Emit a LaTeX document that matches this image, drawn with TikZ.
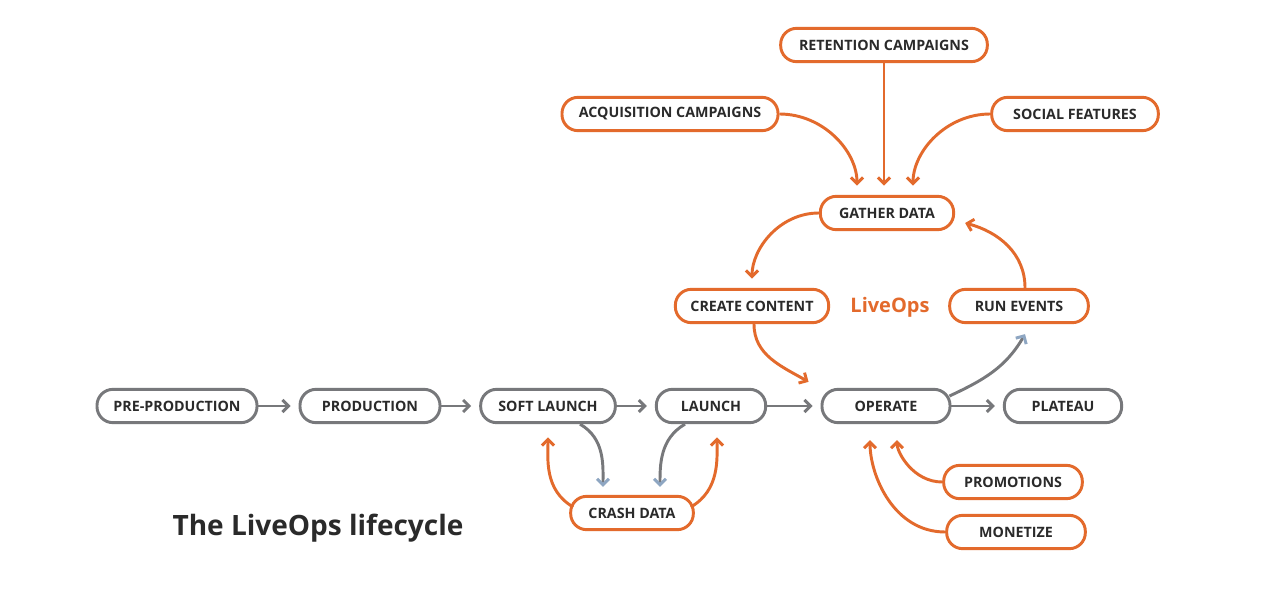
\documentclass[tikz,border=0pt]{standalone}
\usepackage{fontspec}
\setmainfont{Open Sans}
\usepackage{xcolor}
\usepackage{tikz}
\usetikzlibrary{calc,arrows.meta}
\definecolor{lopc}{HTML}{E36A2C}
\definecolor{grayc}{HTML}{77787B}
\definecolor{tipc}{HTML}{8EA6C2}
\definecolor{txtc}{HTML}{2A2A2A}
\tikzset{
  gbox/.style={draw=grayc,line width=2.2pt,rounded corners=12pt,fill=white,minimum height=25pt,inner sep=3pt,font=\fontsize{10.7pt}{12pt}\selectfont\bfseries,text=txtc},
  obox/.style={gbox,draw=lopc},
  gar/.style={-{Straight Barb[length=4.5pt,width=9pt]},line width=2.2pt,grayc,shorten >=6pt},
  bar/.style={gar,-{Straight Barb[length=4.5pt,width=9pt,color=tipc]}},
  oar/.style={gar,lopc}
}
\begin{document}
\begin{tikzpicture}[x=0.75pt,y=0.75pt]
\useasboundingbox[fill=white] (0,0) rectangle (1280,-606);
\node[gbox,minimum width=120pt] (pre) at (177,-406) {PRE-PRODUCTION};
\node[gbox,minimum width=105pt] (prod) at (370,-406) {PRODUCTION};
\node[gbox,minimum width=101pt] (soft) at (548,-406) {SOFT LAUNCH};
\node[gbox,minimum width=82pt] (launch) at (711,-406) {LAUNCH};
\node[gbox,minimum width=96pt] (op) at (886,-406) {OPERATE};
\node[gbox,minimum width=88pt] (plat) at (1063,-406) {PLATEAU};
\node[obox,minimum width=92pt] (crash) at (632,-513) {CRASH DATA};
\node[obox,minimum width=115pt] (create) at (752,-306) {CREATE CONTENT};
\node[obox,minimum width=104pt] (run) at (1019,-306) {RUN EVENTS};
\node[obox,minimum width=100pt] (gather) at (887,-213) {GATHER DATA};
\node[obox,minimum width=162pt] (acq) at (670,-114) {ACQUISITION CAMPAIGNS};
\node[obox,minimum width=155pt] (ret) at (884,-45) {RETENTION CAMPAIGNS};
\node[obox,minimum width=125pt] (social) at (1075,-114) {SOCIAL FEATURES};
\node[obox,minimum width=104pt] (promo) at (1013,-482) {PROMOTIONS};
\node[obox,minimum width=104pt] (monet) at (1016,-532) {MONETIZE};
\node[font=\fontsize{15pt}{18pt}\selectfont\bfseries,text=lopc] (liveops) at (890,-307) {LiveOps};
\node[font=\fontsize{21pt}{25pt}\selectfont\bfseries,text=txtc] (title) at (318,-528) {The LiveOps lifecycle};

\draw[gar] (pre) -- (prod);
\draw[gar] (prod) -- (soft);
\draw[gar] (soft) -- (launch);
\draw[gar] (launch) -- (op);
\draw[gar] (op) -- (plat);
\draw[bar] ($(soft.south)+(32,0)$) to[out=-30,in=90] ($(crash.north)+(-29,0)$);
\draw[bar] ($(launch.south)+(-26,0)$) to[out=210,in=90] ($(crash.north)+(28,0)$);
\draw[oar,shorten >=10pt] ($(crash.west)+(4,6)$) to[out=150,in=-90] (soft.south);
\draw[oar,shorten >=10pt] ($(crash.east)+(-4,6)$) to[out=30,in=-90] ($(launch.south)+(6,0)$);
\draw[oar,shorten >=0pt] ($(create.south)+(2,0)$) to[out=-90,in=150] ($(op.north west)+(-12,6)$);
\draw[bar,shorten >=0pt] ($(op.east)+(-2,10)$) to[out=25,in=-120] ($(run.south)+(6,-10)$);
\draw[oar,shorten >=0pt] ($(run.north)+(6,0)$) to[out=90,in=-15] ($(gather.east)+(10,-10)$);
\draw[oar,shorten >=7pt] (gather.west) to[out=180,in=90] (create.north);
\draw[oar,shorten >=7pt] (acq.east) to[out=0,in=90] ($(gather.north)+(-30,0)$);
\draw[oar,shorten >=7pt] (ret.south) -- ($(gather.north)+(-3,0)$);
\draw[oar,shorten >=7pt] (social.west) to[out=180,in=90] ($(gather.north)+(26,0)$);
\draw[oar,shorten >=12pt] (promo.west) to[out=180,in=-90] ($(op.south)+(11,0)$);
\draw[oar,shorten >=12pt] (monet.west) to[out=180,in=-90] ($(op.south)+(-16,0)$);
\end{tikzpicture}
\end{document}
